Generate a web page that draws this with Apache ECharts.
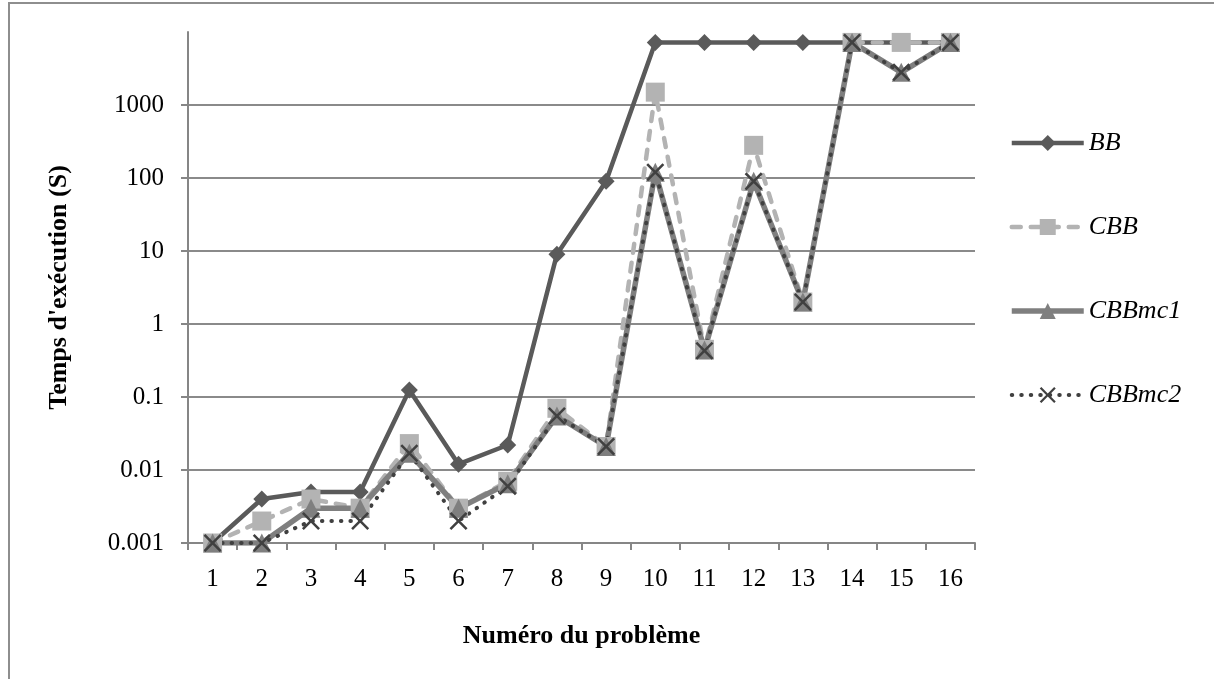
<!DOCTYPE html>
<html>
<head>
<meta charset="utf-8">
<script src="https://cdn.jsdelivr.net/npm/echarts@6/dist/echarts.min.js"></script>
<style>
  html, body { margin: 0; padding: 0; background: #fff; }
  #wrap { position: relative; width: 1214px; height: 679px; overflow: hidden; background: #fff; }
  #chart { position: absolute; left: 0; top: 0; width: 1214px; height: 679px; }
  #frame { position: absolute; left: 8px; top: 2px; width: 1220px; height: 700px; border: 2px solid #8e8e8e; pointer-events: none; }
</style>
</head>
<body>
<div id="wrap">
  <div id="chart"></div>
  <div id="frame"></div>
</div>
<script>
const categories = ['1','2','3','4','5','6','7','8','9','10','11','12','13','14','15','16'];
const yTickLabels = ['0.001','0.01','0.1','1','10','100','1000'];
const seriesNames = ['BB','CBB','CBBmc1','CBBmc2'];

const bb     = [0.001, 0.004, 0.005, 0.005, 0.125, 0.012, 0.022, 9, 90, 7200, 7200, 7200, 7200, 7200, 7200, 7200];
const cbb    = [0.001, 0.002, 0.004, 0.003, 0.023, 0.003, 0.007, 0.07, 0.021, 1500, 0.45, 280, 2, 7200, 7200, 7200];
const cbbmc1 = [0.001, 0.001, 0.003, 0.003, 0.017, 0.003, 0.0065, 0.055, 0.021, 120, 0.44, 90, 2, 7200, 2800, 7200];
const cbbmc2 = [0.001, 0.001, 0.002, 0.002, 0.017, 0.002, 0.006, 0.055, 0.021, 120, 0.43, 90, 2, 7200, 2800, 7200];

const FONT = '"Liberation Serif", "Times New Roman", serif';
const xPath = 'path://M0,1 L1,0 L5,4 L9,0 L10,1 L6,5 L10,9 L9,10 L5,6 L1,10 L0,9 L4,5 Z';

const styles = [
  { symbol: 'diamond', size: 17, color: '#5a5a5a', line: { color: '#5a5a5a', width: 4.5 } },
  { symbol: 'rect', size: 19, color: '#b3b3b3', line: { color: '#b3b3b3', width: 4.5, type: [9, 10], cap: 'round' } },
  { symbol: 'triangle', size: 19, color: '#7f7f7f', line: { color: '#7f7f7f', width: 5.5 } },
  { symbol: xPath, size: 18, color: '#404040', line: { color: '#404040', width: 4, type: [0.5, 9], cap: 'round' } }
];
const seriesData = [bb, cbb, cbbmc1, cbbmc2];

const chart = echarts.init(document.getElementById('chart'), null, { renderer: 'canvas' });
chart.setOption({
  animation: false,
  backgroundColor: '#fff',
  grid: { left: 188, right: 239, top: 32, bottom: 136, containLabel: false },
  legend: {
    orient: 'vertical',
    left: 1004,
    top: 125,
    itemWidth: 72,
    itemHeight: 20,
    itemGap: 58,
    textStyle: { fontFamily: FONT, fontSize: 26, fontStyle: 'italic', color: '#000' },
    data: seriesNames.map((n, i) => ({
      name: n,
      itemStyle: { color: styles[i].color },
      lineStyle: Object.assign({}, styles[i].line)
    }))
  },
  xAxis: {
    type: 'category',
    data: categories,
    boundaryGap: true,
    name: 'Numéro du problème',
    nameLocation: 'middle',
    nameGap: 80,
    nameTextStyle: { fontFamily: FONT, fontSize: 26, fontWeight: 'bold', color: '#000' },
    axisLine: { lineStyle: { color: '#868686', width: 2 } },
    axisTick: { show: true, length: 7, lineStyle: { color: '#868686', width: 2 } },
    axisLabel: { fontFamily: FONT, fontSize: 25, color: '#000', margin: 24 },
    splitLine: { show: false }
  },
  yAxis: {
    type: 'log',
    logBase: 10,
    min: 0.001,
    max: 10000,
    splitNumber: 7,
    name: "Temps d'exécution (S)",
    nameLocation: 'middle',
    nameGap: 116,
    nameRotate: 90,
    nameTextStyle: { fontFamily: FONT, fontSize: 26, fontWeight: 'bold', color: '#000' },
    axisLine: { show: true, lineStyle: { color: '#868686', width: 2 } },
    axisTick: { show: true, length: 7, lineStyle: { color: '#868686', width: 2 } },
    axisLabel: {
      fontFamily: FONT, fontSize: 25, color: '#000', margin: 24,
      showMaxLabel: false,
      formatter: function (v) {
        const i = Math.round(Math.log10(v)) + 3;
        return (i >= 0 && i < yTickLabels.length) ? yTickLabels[i] : '';
      }
    },
    splitLine: { show: true, showMaxLine: false, lineStyle: { color: '#8a8a8a', width: 2 } }
  },
  series: seriesNames.map((n, i) => ({
    name: n, type: 'line', data: seriesData[i],
    symbol: styles[i].symbol, symbolSize: styles[i].size,
    itemStyle: { color: styles[i].color },
    lineStyle: Object.assign({}, styles[i].line)
  }))
});
</script>
</body>
</html>
